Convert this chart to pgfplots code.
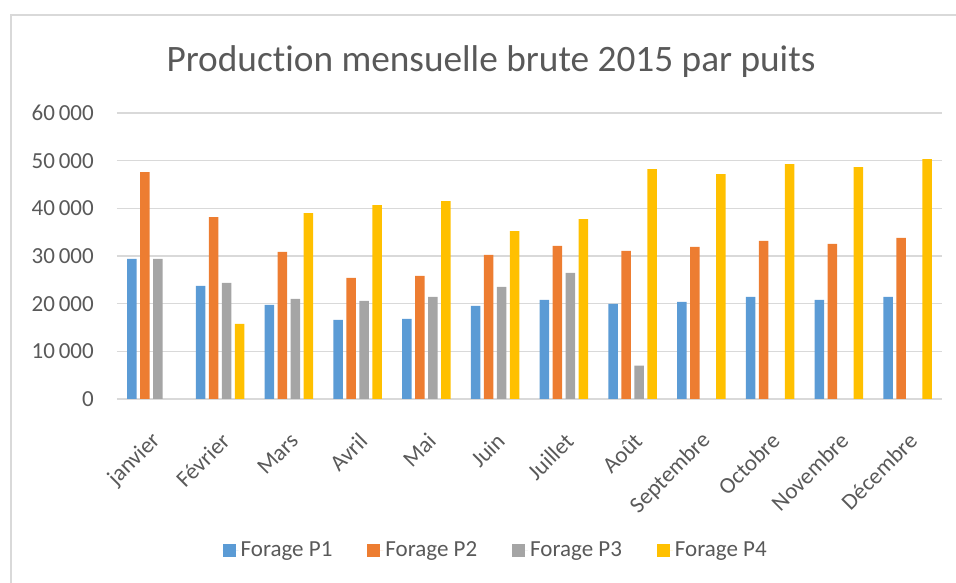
\documentclass[border=0pt]{standalone}
\usepackage{fontspec}
\setmainfont{Carlito}[Ligatures=NoCommon]
\usepackage{pgfplots}
\pgfplotsset{compat=1.18}
\definecolor{P1}{RGB}{91,155,213}
\definecolor{P2}{RGB}{237,125,49}
\definecolor{P3}{RGB}{165,165,165}
\definecolor{P4}{RGB}{255,192,0}
\definecolor{gridgray}{RGB}{217,217,217}
\definecolor{txtgray}{RGB}{89,89,89}
\newcommand{\ftick}{\fontsize{23}{26}\selectfont}
\begin{document}
\begin{tikzpicture}
\path[use as bounding box] (0pt,0pt) rectangle (956pt,583pt);
\draw[gridgray, line width=1.5pt] (11pt,0pt) -- (11pt,568pt) -- (956pt,568pt);
\node[anchor=base, text=txtgray, font=\fontsize{37.3}{40}\selectfont]
  at (491pt,511pt) {Production mensuelle brute 2015 par puits};
\begin{axis}[
  at={(117pt,184pt)}, anchor=south west,
  scale only axis, width=825pt, height=286pt,
  ybar=3.5pt, bar width=9.5pt,
  xmin=-0.5, xmax=11.5, ymin=0, ymax=60000,
  enlargelimits=false,
  scaled y ticks=false,
  axis line style={draw=none},
  major tick length=0pt,
  ymajorgrids=true,
  grid style={gridgray, line width=1.5pt},
  xtick={0,...,11},
  xticklabels={janvier,Février,Mars,Avril,Mai,Juin,Juillet,Août,Septembre,Octobre,Novembre,Décembre},
  xticklabel style={rotate=45, anchor=east, inner sep=0pt,
                    xshift=-23pt, yshift=-31pt,
                    font=\ftick, text=txtgray},
  ytick={0,10000,20000,30000,40000,50000,60000},
  yticklabels={0,10\,000,20\,000,30\,000,40\,000,50\,000,60\,000},
  yticklabel style={inner sep=0pt, xshift=-23pt, font=\ftick, text=txtgray},
  legend image code/.code={\fill[#1] (0pt,-6.5pt) rectangle (13pt,6.5pt);
                           \path (0pt,0pt) -- (16pt,0pt);},
  legend columns=4,
  legend style={at={(0.459,-0.528)}, anchor=center, draw=none, fill=none,
                font=\ftick, text=txtgray,
                /tikz/every even column/.append style={column sep=33pt}},
]
\addplot[fill=P1, draw=none] coordinates {
  (0,29380) (1,23730) (2,19750) (3,16610) (4,16820) (5,19540)
  (6,20800) (7,19960) (8,20380) (9,21420) (10,20800) (11,21420)};
\addplot[fill=P2, draw=none] coordinates {
  (0,47590) (1,38170) (2,30840) (3,25400) (4,25820) (5,30220)
  (6,32100) (7,31050) (8,31890) (9,33150) (10,32520) (11,33780)};
\addplot[fill=P3, draw=none] coordinates {
  (0,29380) (1,24350) (2,21000) (3,20590) (4,21420) (5,23520)
  (6,26450) (7,6980)};
\addplot[fill=P4, draw=none] coordinates {
  (1,15770) (2,39010) (3,40680) (4,41520) (5,35240)
  (6,37750) (7,48220) (8,47170) (9,49270) (10,48640) (11,50310)};
\legend{Forage P1,Forage P2,Forage P3,Forage P4}
\end{axis}
\end{tikzpicture}
\end{document}
